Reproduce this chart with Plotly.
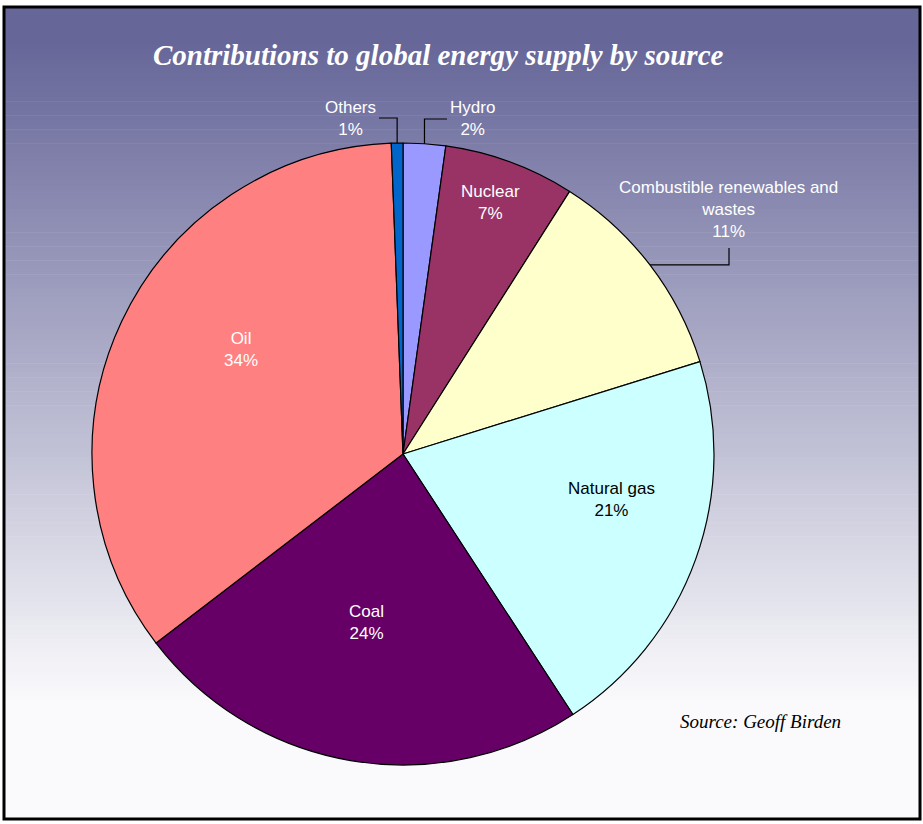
import math
import plotly.graph_objects as go

W, H = 923, 824

# ---- data ----
labels = ["Hydro", "Nuclear", "Combustible renewables and wastes", "Natural gas", "Coal", "Oil", "Others"]
label_text = ["Hydro", "Nuclear", "Combustible renewables and<br>wastes", "Natural gas", "Coal", "Oil", "Others"]
values = [2.2, 6.8, 11.2, 20.6, 23.8, 34.8, 0.6]
pct_text = ["2%", "7%", "11%", "21%", "24%", "34%", "1%"]
colors = ["#9999FF", "#993366", "#FFFFCC", "#CCFFFF", "#660066", "#FF8080", "#0066CC"]
text_colors = ["white", "white", "white", "black", "white", "white", "white"]

# ---- geometry (pixels) ----
CX, CY, R = 403, 454, 311
BOX = (3, 6, 921, 820)  # left, top, right, bottom


def px(x):
    return x / W


def py(y):
    return 1 - y / H


fig = go.Figure(go.Pie(
    labels=labels,
    values=values,
    textinfo="none",
    marker=dict(colors=colors, line=dict(color="black", width=1.2)),
    sort=False,
    direction="clockwise",
    rotation=0,
    showlegend=False,
    hoverinfo="label+percent",
    domain=dict(x=[px(CX - R), px(CX + R)], y=[py(CY + R), py(CY - R)]),
))

shapes = []
# gradient background
top_c = (102, 102, 153)
bot_c = (250, 250, 252)
g_start, g_end = 45, 700
n = 140
edges = [BOX[1]] + [g_start + (g_end - g_start) * k / n for k in range(n + 1)] + [BOX[3]]
for a, b in zip(edges[:-1], edges[1:]):
    mid = (a + b) / 2
    t = min(max((mid - g_start) / (g_end - g_start), 0), 1)
    c = tuple(round(top_c[j] + (bot_c[j] - top_c[j]) * t) for j in range(3))
    shapes.append(dict(type="rect", xref="paper", yref="paper",
                       x0=px(BOX[0]), x1=px(BOX[2]), y0=py(b + 0.6), y1=py(a),
                       fillcolor="rgb(%d,%d,%d)" % c, line=dict(width=0), layer="below"))
# border
shapes.append(dict(type="rect", xref="paper", yref="paper",
                   x0=px(BOX[0] + 1), x1=px(BOX[2] - 1), y0=py(BOX[3] - 1), y1=py(BOX[1] + 1),
                   line=dict(color="black", width=3), fillcolor="rgba(0,0,0,0)", layer="above"))

# slice mid-angles (clockwise from 12 o'clock)
total = sum(values)
cum = 0
mids = []
for v in values:
    mids.append((cum + v / 2) / total * 2 * math.pi)
    cum += v


def rim(i):
    th = mids[i]
    return CX + R * math.sin(th), CY - R * math.cos(th)


# leader lines for the labels placed outside the pie
elbows = {
    0: [("v", 119), ("h", 447)],
    6: [("v", 118), ("h", 379)],
    2: [("h", 729), ("v", 248)],
}
for i, steps in elbows.items():
    x, y = rim(i)
    pts = [(x, y)]
    for kind, val in steps:
        if kind == "v":
            y = val
        else:
            x = val
        pts.append((x, y))
    path = "M " + " L ".join(f"{px(a):.5f},{py(b):.5f}" for a, b in pts)
    shapes.append(dict(type="path", xref="paper", yref="paper", path=path,
                       line=dict(color="black", width=1.2)))

# label centres (pixels)
label_pos = [(472, 118), (490, 203), (728.5, 209), (611, 500), (366, 622), (241, 350), (350, 118)]

annotations = []
for i, (lx, ly) in enumerate(label_pos):
    annotations.append(dict(x=px(lx), y=py(ly), xref="paper", yref="paper",
                            text=f"{label_text[i]}<br>{pct_text[i]}", showarrow=False,
                            xanchor="center", yanchor="middle", align="center",
                            font=dict(family="Liberation Sans, Arial, sans-serif", size=17,
                                      color=text_colors[i])))

annotations.append(dict(x=px(438.5), y=py(55), xref="paper", yref="paper",
                        text="<b><i>Contributions to global energy supply by source</i></b>",
                        showarrow=False, xanchor="center", yanchor="middle",
                        font=dict(family="Liberation Serif, Times New Roman, serif", size=29, color="white")))
annotations.append(dict(x=px(760.5), y=py(721), xref="paper", yref="paper",
                        text="<i>Source: Geoff Birden</i>",
                        showarrow=False, xanchor="center", yanchor="middle",
                        font=dict(family="Liberation Serif, Times New Roman, serif", size=19, color="black")))

fig.update_layout(
    width=W, height=H,
    margin=dict(l=0, r=0, t=0, b=0),
    paper_bgcolor="white",
    plot_bgcolor="white",
    shapes=shapes,
    annotations=annotations,
)

fig.write_html(
    "out.html",
    config={"displayModeBar": False},
    post_script="document.body.style.margin='0';document.body.style.overflow='hidden';",
)
